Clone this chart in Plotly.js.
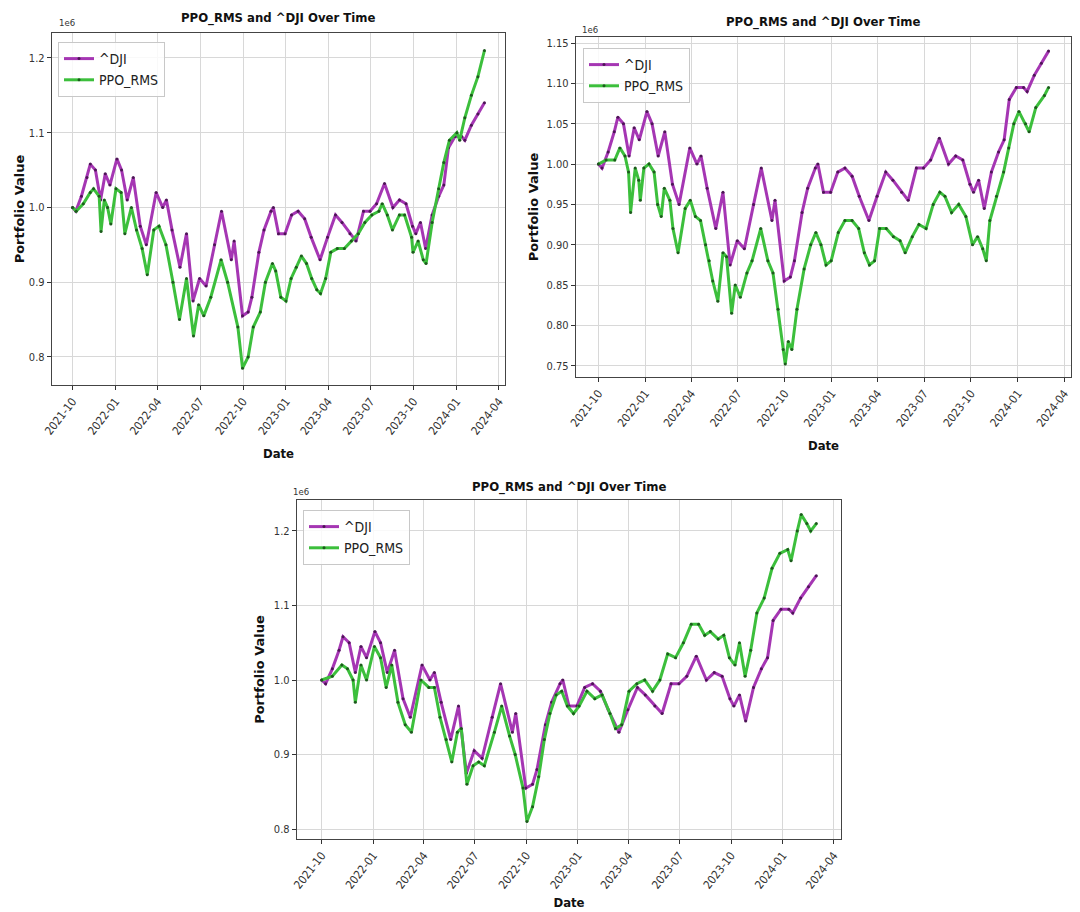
<!DOCTYPE html>
<html>
<head>
<meta charset="utf-8">
<script src="https://cdn.plot.ly/plotly-3.0.1.min.js"></script>
<style>html,body{margin:0;padding:0;background:#fff;}#chart{width:1080px;height:912px;}</style>
</head>
<body>
<div id="chart"></div>
<script>
// Values in units of 1e6 (portfolio value)
const djiDates = ['2021-10-01','2021-10-08','2021-10-20','2021-11-01','2021-11-08','2021-11-19','2021-11-30','2021-12-10','2021-12-20','2022-01-04','2022-01-14','2022-01-26','2022-02-08','2022-02-23','2022-03-08','2022-03-29','2022-04-12','2022-04-20','2022-05-02','2022-05-19','2022-06-02','2022-06-16','2022-06-30','2022-07-14','2022-08-01','2022-08-16','2022-09-06','2022-09-12','2022-09-30','2022-10-12','2022-10-20','2022-11-04','2022-11-15','2022-11-30','2022-12-05','2022-12-16','2022-12-30','2023-01-13','2023-01-27','2023-02-10','2023-02-24','2023-03-15','2023-03-31','2023-04-17','2023-05-01','2023-05-18','2023-05-31','2023-06-16','2023-06-30','2023-07-14','2023-07-31','2023-08-18','2023-09-01','2023-09-15','2023-09-29','2023-10-06','2023-10-16','2023-10-27','2023-11-10','2023-11-24','2023-12-05','2023-12-15','2023-12-29','2024-01-12','2024-01-19','2024-02-02','2024-02-16','2024-03-01'];
const djiValues = [1.000,0.995,1.015,1.040,1.058,1.050,1.010,1.045,1.030,1.065,1.050,1.010,1.040,0.975,0.950,1.020,1.000,1.010,0.970,0.920,0.965,0.875,0.905,0.895,0.950,0.995,0.930,0.955,0.855,0.860,0.880,0.940,0.970,0.995,1.000,0.965,0.965,0.990,0.995,0.985,0.960,0.930,0.960,0.990,0.980,0.965,0.955,0.995,0.995,1.005,1.032,1.000,1.010,1.005,0.975,0.965,0.980,0.945,0.990,1.015,1.030,1.080,1.095,1.095,1.090,1.110,1.125,1.140];

const ppo1Dates = ['2021-10-01','2021-10-09','2021-10-24','2021-11-08','2021-11-15','2021-11-27','2021-12-01','2021-12-08','2021-12-15','2021-12-22','2022-01-02','2022-01-13','2022-01-21','2022-02-04','2022-02-15','2022-02-27','2022-03-10','2022-03-24','2022-04-04','2022-04-19','2022-05-04','2022-05-18','2022-06-02','2022-06-17','2022-06-28','2022-07-09','2022-07-24','2022-08-15','2022-08-29','2022-09-20','2022-09-30','2022-10-12','2022-10-23','2022-11-07','2022-11-18','2022-12-03','2022-12-10','2022-12-21','2023-01-01','2023-01-12','2023-01-23','2023-02-03','2023-02-14','2023-02-25','2023-03-08','2023-03-16','2023-03-27','2023-04-07','2023-04-21','2023-05-06','2023-05-21','2023-06-05','2023-06-19','2023-07-04','2023-07-19','2023-07-26','2023-08-06','2023-08-17','2023-09-01','2023-09-12','2023-09-27','2023-09-30','2023-10-11','2023-10-22','2023-10-28','2023-11-10','2023-11-24','2023-12-05','2023-12-17','2024-01-02','2024-01-08','2024-01-19','2024-02-02','2024-02-16','2024-03-01'];
const ppo1Values = [1.000,0.995,1.005,1.020,1.025,1.015,0.968,1.010,1.000,0.978,1.025,1.020,0.965,1.000,0.970,0.945,0.910,0.970,0.975,0.950,0.900,0.850,0.905,0.828,0.870,0.855,0.880,0.930,0.900,0.840,0.785,0.800,0.840,0.860,0.900,0.925,0.915,0.880,0.875,0.905,0.920,0.935,0.925,0.905,0.890,0.885,0.905,0.940,0.945,0.945,0.955,0.965,0.980,0.990,0.995,1.005,0.990,0.970,0.990,0.990,0.960,0.940,0.955,0.930,0.925,0.980,1.025,1.060,1.090,1.100,1.090,1.120,1.150,1.175,1.210];

const ppo2Dates = ['2021-10-01','2021-10-16','2021-11-02','2021-11-12','2021-11-22','2021-11-29','2021-12-03','2021-12-12','2021-12-19','2021-12-22','2021-12-29','2022-01-08','2022-01-18','2022-01-25','2022-02-01','2022-02-07','2022-02-18','2022-02-24','2022-03-06','2022-03-20','2022-03-30','2022-04-09','2022-04-19','2022-04-29','2022-05-06','2022-05-13','2022-05-23','2022-06-02','2022-06-09','2022-06-19','2022-06-26','2022-07-06','2022-07-19','2022-07-29','2022-08-15','2022-08-29','2022-09-08','2022-09-18','2022-09-28','2022-10-02','2022-10-08','2022-10-15','2022-10-25','2022-11-08','2022-11-21','2022-12-01','2022-12-11','2022-12-21','2022-12-31','2023-01-14','2023-01-27','2023-02-10','2023-02-23','2023-03-06','2023-03-16','2023-03-26','2023-04-05','2023-04-18','2023-05-02','2023-05-15','2023-05-25','2023-06-08','2023-06-21','2023-07-05','2023-07-19','2023-08-01','2023-08-11','2023-08-24','2023-09-07','2023-09-21','2023-10-04','2023-10-14','2023-10-24','2023-10-31','2023-11-07','2023-11-20','2023-12-04','2023-12-14','2023-12-24','2024-01-03','2024-01-16','2024-01-23','2024-02-05','2024-02-22','2024-03-01'];
const ppo2Values = [1.000,1.005,1.005,1.020,1.010,0.990,0.940,0.995,0.980,0.955,0.995,1.000,0.990,0.950,0.935,0.970,0.955,0.920,0.890,0.945,0.955,0.935,0.930,0.900,0.880,0.855,0.830,0.890,0.885,0.815,0.850,0.835,0.865,0.880,0.920,0.880,0.865,0.820,0.770,0.752,0.780,0.770,0.820,0.870,0.900,0.915,0.900,0.875,0.880,0.915,0.930,0.930,0.920,0.890,0.875,0.880,0.920,0.920,0.910,0.905,0.890,0.910,0.925,0.920,0.950,0.965,0.960,0.940,0.950,0.935,0.900,0.910,0.895,0.880,0.930,0.960,0.990,1.020,1.050,1.065,1.050,1.040,1.070,1.085,1.095];

const ppo3Dates = ['2021-10-01','2021-10-20','2021-11-06','2021-11-16','2021-11-26','2021-11-30','2021-12-10','2021-12-20','2022-01-03','2022-01-14','2022-01-24','2022-02-03','2022-02-14','2022-02-27','2022-03-10','2022-03-27','2022-04-10','2022-04-20','2022-04-30','2022-05-11','2022-05-21','2022-05-31','2022-06-07','2022-06-17','2022-06-28','2022-07-08','2022-07-18','2022-08-05','2022-08-18','2022-09-01','2022-09-11','2022-09-25','2022-10-02','2022-10-12','2022-10-23','2022-11-02','2022-11-12','2022-11-23','2022-12-03','2022-12-13','2022-12-24','2023-01-03','2023-01-17','2023-01-31','2023-02-13','2023-02-27','2023-03-09','2023-03-20','2023-04-02','2023-04-16','2023-04-30','2023-05-14','2023-05-27','2023-06-10','2023-06-24','2023-07-08','2023-07-22','2023-08-04','2023-08-15','2023-08-25','2023-09-08','2023-09-18','2023-09-28','2023-10-08','2023-10-16','2023-10-26','2023-11-05','2023-11-16','2023-11-29','2023-12-13','2023-12-27','2024-01-10','2024-01-16','2024-01-27','2024-02-03','2024-02-13','2024-02-20','2024-03-01'];
const ppo3Values = [1.000,1.005,1.020,1.015,1.000,0.970,1.020,1.000,1.045,1.030,0.990,1.020,0.970,0.940,0.930,1.000,0.990,0.990,0.950,0.920,0.890,0.930,0.935,0.860,0.885,0.890,0.885,0.930,0.965,0.925,0.900,0.855,0.810,0.830,0.870,0.920,0.955,0.980,0.985,0.965,0.955,0.965,0.985,0.975,0.980,0.955,0.935,0.940,0.985,0.995,1.000,0.985,1.000,1.035,1.030,1.050,1.075,1.075,1.060,1.065,1.055,1.060,1.030,1.020,1.050,1.005,1.040,1.090,1.110,1.150,1.170,1.175,1.160,1.200,1.222,1.210,1.200,1.210];

const seriesNames = ['^DJI', 'PPO_RMS'];
const titleText = 'PPO_RMS and ^DJI Over Time';
const xTitle = 'Date';
const yTitle = 'Portfolio Value';

const purple = '#a536b3', purpleMk = '#4d1656';
const green = '#3cbf3c', greenMk = '#1d5a1d';
const narrow = '"Liberation Sans Narrow", "Arial Narrow", "DejaVu Sans Condensed", "Roboto Condensed", sans-serif';
const boldFont = '"DejaVu Sans Condensed", "DejaVu Sans", sans-serif';

const ppoSets = [[ppo1Dates, ppo1Values], [ppo2Dates, ppo2Values], [ppo3Dates, ppo3Values]];
const legends = ['legend', 'legend2', 'legend3'];
const traces = [];
ppoSets.forEach((p, i) => {
  const xa = i === 0 ? 'x' : 'x' + (i + 1);
  const ya = i === 0 ? 'y' : 'y' + (i + 1);
  traces.push({x: djiDates, y: djiValues, name: seriesNames[0], type: 'scatter', mode: 'lines+markers',
    xaxis: xa, yaxis: ya, legend: legends[i],
    line: {color: purple, width: 3}, marker: {color: purpleMk, size: 3}});
  traces.push({x: p[0], y: p[1], name: seriesNames[1], type: 'scatter', mode: 'lines+markers',
    xaxis: xa, yaxis: ya, legend: legends[i],
    line: {color: green, width: 3}, marker: {color: greenMk, size: 3}});
});

const W = 1080, H = 912;
function dom(x0, x1, y0, y1) { return {x: [x0 / W, x1 / W], y: [(H - y1) / H, (H - y0) / H]}; }
const boxes = [dom(52, 505, 33, 385), dom(576, 1071, 37, 377), dom(297, 841, 500, 839)];
const yRanges = [[0.7625, 1.2334], [0.736, 1.1575], [0.7866, 1.2416]];
const yDticks = [0.1, 0.05, 0.1];
const yFormats = ['.1f', '.2f', '.1f'];
const xStandoff = [12, 12, 7];
const yStandoff = [1, 5, 6];

function xAxis(i) {
  return {domain: boxes[i].x, anchor: i === 0 ? 'y' : 'y' + (i + 1), type: 'date',
    range: ['2021-08-18', '2024-04-14'], tick0: '2021-10-01', dtick: 'M3', tickformat: '%Y-%m',
    tickangle: -52, ticks: 'outside', ticklen: 4, tickcolor: '#333', showgrid: true, gridcolor: '#d8d8d8',
    showline: true, linecolor: '#444', linewidth: 1.2, mirror: true, zeroline: false,
    tickfont: {family: narrow, size: 11.5, color: '#333'},
    title: {text: xTitle, font: {family: boldFont, size: 13, color: '#111', weight: 'bold'}, standoff: xStandoff[i]}};
}
function yAxis(i) {
  return {domain: boxes[i].y, anchor: i === 0 ? 'x' : 'x' + (i + 1), range: yRanges[i],
    dtick: yDticks[i], tickformat: yFormats[i], ticks: 'outside', ticklen: 4, tickcolor: '#333',
    showgrid: true, gridcolor: '#d8d8d8', showline: true, linecolor: '#444', linewidth: 1.2, mirror: true,
    zeroline: false, tickfont: {family: narrow, size: 11, color: '#333'},
    title: {text: yTitle, font: {family: '"DejaVu Sans", sans-serif', size: 13, color: '#111', weight: 'bold'}, standoff: yStandoff[i]}};
}
function legendBox(x, y) {
  return {x: x / W, y: (H - y) / H, xanchor: 'left', yanchor: 'top', bgcolor: 'rgba(255,255,255,0.85)',
    bordercolor: '#c8c8c8', borderwidth: 1, font: {family: narrow, size: 14, color: '#222'},
    itemwidth: 30, tracegroupgap: 2};
}
const titles = [[278, 18], [823, 22], [569, 487]];
const offsets = [[57, 22], [580, 29], [291, 491]];
const annotations = [];
titles.forEach(t => annotations.push({text: '<b>' + titleText + '</b>', x: t[0] / W, y: (H - t[1]) / H,
  xref: 'paper', yref: 'paper', showarrow: false, xanchor: 'center', yanchor: 'middle',
  font: {family: boldFont, size: 13, color: '#111'}}));
offsets.forEach(o => annotations.push({text: '1e6', x: o[0] / W, y: (H - o[1]) / H, xref: 'paper', yref: 'paper',
  showarrow: false, xanchor: 'left', yanchor: 'middle', font: {family: narrow, size: 9.5, color: '#333'}}));

const layout = {
  width: W, height: H, margin: {l: 0, r: 0, t: 0, b: 0}, paper_bgcolor: '#fff', plot_bgcolor: '#fff',
  showlegend: true,
  xaxis: xAxis(0), yaxis: yAxis(0), xaxis2: xAxis(1), yaxis2: yAxis(1), xaxis3: xAxis(2), yaxis3: yAxis(2),
  legend: legendBox(58, 42), legend2: legendBox(583, 48), legend3: legendBox(303, 510),
  annotations: annotations
};
Plotly.newPlot('chart', traces, layout, {displayModeBar: false, staticPlot: true});
</script>
</body>
</html>
